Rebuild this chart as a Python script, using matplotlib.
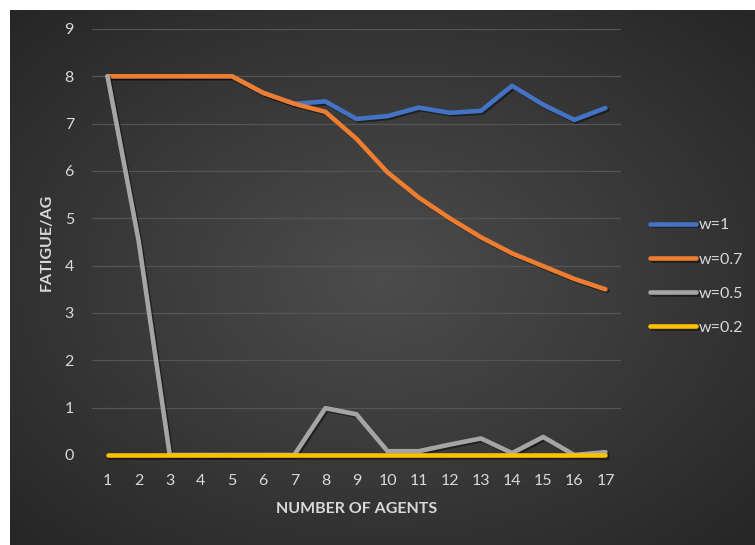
import numpy as np
import matplotlib.pyplot as plt
import matplotlib.patheffects as pe

# values
agents = list(range(1, 18))
w_1 = [8, 8, 8, 8, 8, 7.65, 7.42, 7.47, 7.1, 7.16, 7.34, 7.23, 7.27, 7.8, 7.4, 7.08, 7.33]
w_07 = [8, 8, 8, 8, 8, 7.65, 7.42, 7.25, 6.68, 5.97, 5.44, 5.0, 4.6, 4.26, 3.99, 3.72, 3.5]
w_05 = [8, 4.52, 0, 0, 0, 0, 0, 0.99, 0.86, 0.08, 0.08, 0.22, 0.35, 0.04, 0.38, 0, 0.06]
w_02 = [0] * 17

series = [
    ('w=1', w_1, '#4472C4'),
    ('w=0.7', w_07, '#ED7D31'),
    ('w=0.5', w_05, '#A5A5A5'),
    ('w=0.2', w_02, '#FFC000'),
]

plt.rcParams['font.family'] = ['Lato', 'DejaVu Sans']
txt = '#D9D9D9'

fig = plt.figure(figsize=(7.55, 5.45), dpi=100, facecolor='white')

# dark radial-gradient chart area
bg = fig.add_axes([10 / 755, 0, 745 / 755, 535 / 545])
yy, xx = np.mgrid[0:1:300j, 0:1:400j]
r = np.sqrt(((xx - 0.5) / 0.75) ** 2 + ((yy - 0.5) / 0.75) ** 2)
shade = np.clip(0.30 - 0.16 * r, 0.14, 0.3)
bg.imshow(np.dstack([shade] * 3), aspect='auto', extent=[0, 1, 0, 1])
bg.axis('off')

ax = fig.add_axes([92 / 755, 1 - 455 / 545, 529 / 755, 426 / 545])
ax.set_facecolor('none')

shadow = [pe.SimpleLineShadow(offset=(1.2, -1.2), shadow_color='black', alpha=0.45), pe.Normal()]
for name, vals, col in series:
    ax.plot(agents, vals, color=col, lw=3.3, label=name, solid_capstyle='round',
            solid_joinstyle='round', path_effects=shadow, clip_on=False)

ax.set_xlim(0.5, 17.5)
ax.set_ylim(0, 9)
ax.set_xticks(agents)
ax.set_yticks(range(0, 10))
ax.grid(axis='y', color='#555555', lw=0.9)
ax.set_axisbelow(True)
for s in ax.spines.values():
    s.set_visible(False)
ax.tick_params(length=0, colors=txt, labelsize=11.5, pad=14)
ax.tick_params(axis='y', pad=13)

ax.set_xlabel('NUMBER OF AGENTS', color=txt, fontsize=11.5, fontweight='bold', labelpad=10)
ax.set_ylabel('FATIGUE/AG', color=txt, fontsize=11.5, fontweight='bold', labelpad=8)

fig.legend(loc='center left', bbox_to_anchor=(650 / 755, 1 - 276.5 / 545), frameon=False,
           labelcolor=txt, fontsize=11.5, handlelength=2.9, handletextpad=0.15,
           labelspacing=1.25, borderpad=0, borderaxespad=0)

fig.savefig('out.png', dpi=100, facecolor='white')
